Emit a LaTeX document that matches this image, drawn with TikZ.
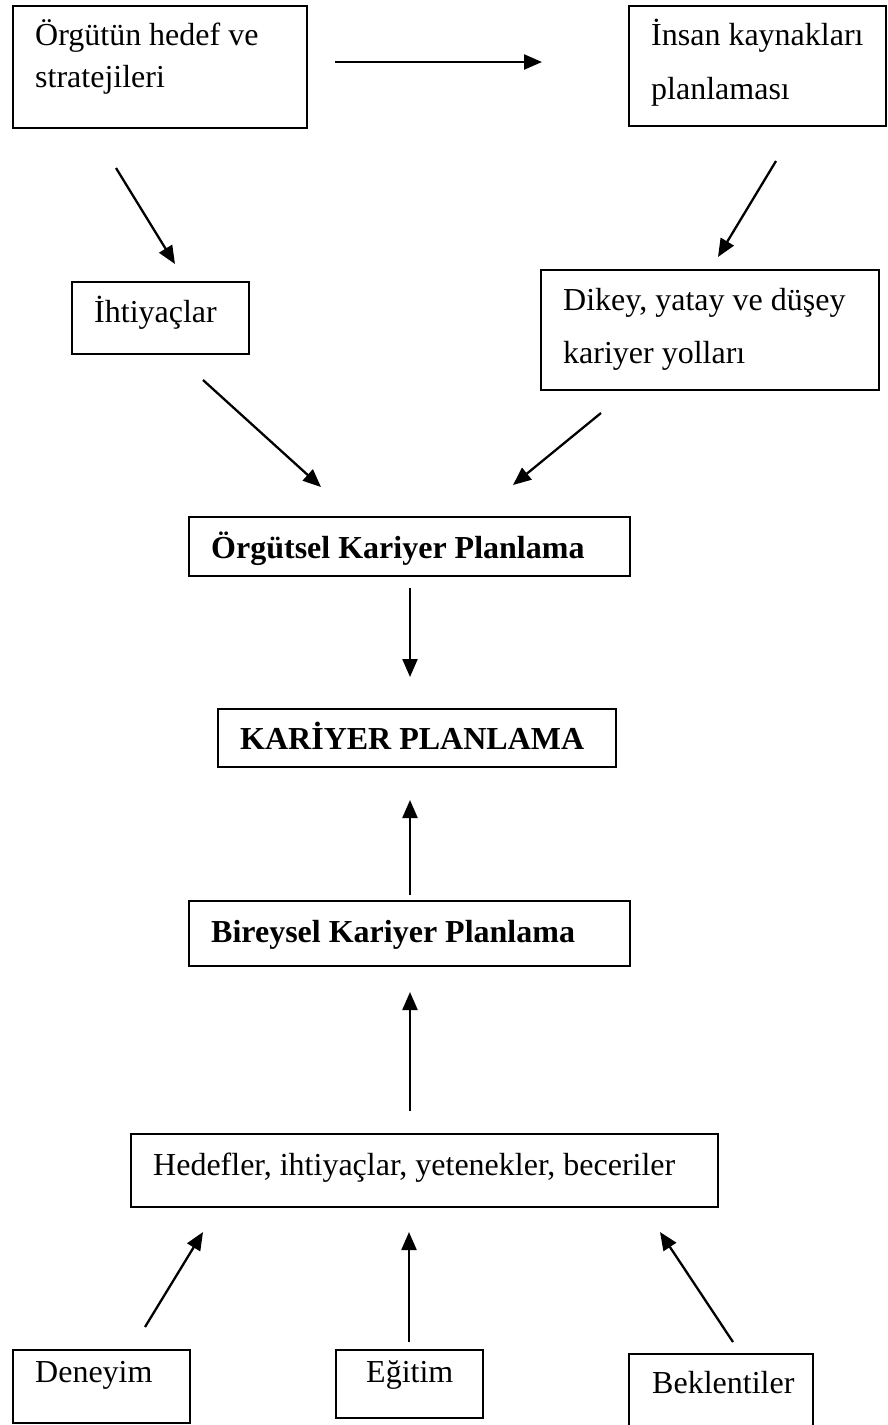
\documentclass[tikz,border=0pt]{standalone}
\usepackage{fontspec}
\setmainfont{Liberation Serif}
\usetikzlibrary{arrows.meta}
\begin{document}
\begin{tikzpicture}[x=1pt,y=-1pt,
  box/.style={draw=black, line width=1.7pt, inner sep=0pt, outer sep=0pt, anchor=north west},
  txt/.style={anchor=base west, inner sep=0pt, font=\fontsize{32}{38}\selectfont},
  btxt/.style={anchor=base west, inner sep=0pt, font=\fontsize{32}{38}\selectfont\bfseries},
  arr/.style={line width=2.3pt, -{Triangle[length=18pt,width=15pt]}}]
\clip (0,0) rectangle (887,1425);
\useasboundingbox (0,0) rectangle (887,1425);
\fill[white] (0,0) rectangle (887,1425);
% boxes
\node[box, minimum width=294pt, minimum height=122pt] (b1) at (13,6) {};
\node[box, minimum width=257pt, minimum height=120pt] (b2) at (629,6) {};
\node[box, minimum width=177pt, minimum height=72pt] (b3) at (72,282) {};
\node[box, minimum width=338pt, minimum height=120pt] (b4) at (541,270) {};
\node[box, minimum width=441pt, minimum height=59pt] (b5) at (189,517) {};
\node[box, minimum width=398pt, minimum height=58pt] (b6) at (218,709) {};
\node[box, minimum width=441pt, minimum height=65pt] (b7) at (189,901) {};
\node[box, minimum width=587pt, minimum height=73pt] (b8) at (131,1134) {};
\node[box, minimum width=177pt, minimum height=73pt] (b9) at (13,1350) {};
\node[box, minimum width=147pt, minimum height=68pt] (b10) at (336,1350) {};
\node[box, minimum width=184pt, minimum height=90pt] (b11) at (629,1354) {};
% texts
\node[txt] (t1a) at (35,45) {Örgütün hedef ve};
\node[txt] (t1b) at (35,87) {stratejileri};
\node[txt] (t2a) at (651,45) {İnsan kaynakları};
\node[txt] (t2b) at (651,99) {planlaması};
\node[txt] (t3) at (94,322) {İhtiyaçlar};
\node[txt] (t4a) at (563,310) {Dikey, yatay ve düşey};
\node[txt] (t4b) at (563,363) {kariyer yolları};
\node[btxt] (t5) at (211,558) {Örgütsel Kariyer Planlama};
\node[btxt] (t6) at (240,749) {KARİYER PLANLAMA};
\node[btxt] (t7) at (211,942) {Bireysel Kariyer Planlama};
\node[txt] (t8) at (153,1175) {Hedefler, ihtiyaçlar, yetenekler, beceriler};
\node[txt] (t9) at (35,1382) {Deneyim};
\node[txt] (t10) at (366,1382) {Eğitim};
\node[txt] (t11) at (652,1393) {Beklentiler};
% arrow end points
\coordinate (a1s) at (335,62);  \coordinate (a1e) at (542,62);
\coordinate (a2s) at (116,168); \coordinate (a2e) at (175,264);
\coordinate (a3s) at (776,161); \coordinate (a3e) at (718,257);
\coordinate (a4s) at (203,380); \coordinate (a4e) at (321,487);
\coordinate (a5s) at (601,413); \coordinate (a5e) at (513,485);
\coordinate (a6s) at (410,588); \coordinate (a6e) at (410,677);
\coordinate (a7s) at (410,895); \coordinate (a7e) at (410,800);
\coordinate (a8s) at (410,1111); \coordinate (a8e) at (410,992);
\coordinate (a9s) at (145,1327); \coordinate (a9e) at (203,1232);
\coordinate (a10s) at (409,1342); \coordinate (a10e) at (409,1232);
\coordinate (a11s) at (733,1342); \coordinate (a11e) at (660,1232);
% arrows
\draw[arr] (a1s) -- (a1e);
\draw[arr] (a2s) -- (a2e);
\draw[arr] (a3s) -- (a3e);
\draw[arr] (a4s) -- (a4e);
\draw[arr] (a5s) -- (a5e);
\draw[arr] (a6s) -- (a6e);
\draw[arr] (a7s) -- (a7e);
\draw[arr] (a8s) -- (a8e);
\draw[arr] (a9s) -- (a9e);
\draw[arr] (a10s) -- (a10e);
\draw[arr] (a11s) -- (a11e);
\end{tikzpicture}
\end{document}
